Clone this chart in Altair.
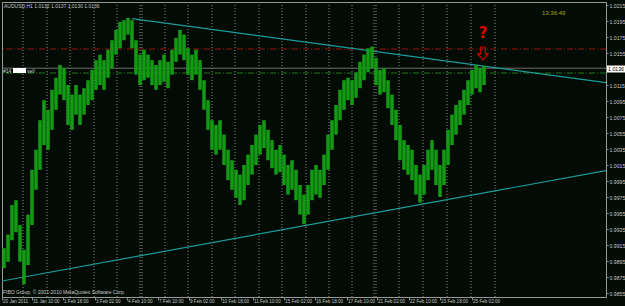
import altair as alt
import pandas as pd

# ---------------- data ----------------
bars = list(range(121))
high = [0.9911, 0.9928, 0.9965, 0.9971, 0.9940, 0.9909, 0.9953, 1.0009, 1.0034, 1.0071,
        1.0096, 1.0084, 1.0109, 1.0124, 1.0140, 1.0136, 1.0115, 1.0103, 1.0115, 1.0103,
        1.0111, 1.0121, 1.0134, 1.0146, 1.0153, 1.0146, 1.0159, 1.0171, 1.0184, 1.0194,
        1.0196, 1.0199, 1.0196, 1.0171, 1.0153, 1.0159, 1.0153, 1.0146, 1.0140, 1.0146,
        1.0153, 1.0144, 1.0159, 1.0174, 1.0184, 1.0178, 1.0161, 1.0153, 1.0159, 1.0146,
        1.0121, 1.0096, 1.0071, 1.0065, 1.0071, 1.0053, 1.0034, 1.0021, 1.0009, 1.0003,
        1.0015, 1.0028, 1.0040, 1.0053, 1.0065, 1.0071, 1.0059, 1.0046, 1.0034, 1.0040,
        1.0028, 1.0015, 1.0021, 1.0009, 0.9990, 0.9978, 0.9990, 1.0009, 1.0015, 1.0009,
        1.0028, 1.0053, 1.0071, 1.0090, 1.0109, 1.0121, 1.0124, 1.0121, 1.0131, 1.0144,
        1.0153, 1.0161, 1.0163, 1.0149, 1.0134, 1.0136, 1.0121, 1.0103, 1.0084, 1.0065,
        1.0046, 1.0040, 1.0034, 1.0015, 1.0003, 1.0015, 1.0034, 1.0046, 1.0034, 1.0015,
        1.0034, 1.0059, 1.0078, 1.0090, 1.0096, 1.0109, 1.0121, 1.0134, 1.0140, 1.0136,
        1.0139]
low = [0.9886, 0.9894, 0.9921, 0.9931, 0.9894, 0.9866, 0.9890, 0.9940, 0.9984, 1.0009,
       1.0040, 1.0034, 1.0059, 1.0084, 1.0103, 1.0096, 1.0065, 1.0059, 1.0078, 1.0065,
       1.0078, 1.0090, 1.0096, 1.0109, 1.0115, 1.0109, 1.0124, 1.0136, 1.0153, 1.0161,
       1.0171, 1.0178, 1.0161, 1.0128, 1.0115, 1.0121, 1.0124, 1.0115, 1.0109, 1.0115,
       1.0119, 1.0111, 1.0128, 1.0144, 1.0153, 1.0146, 1.0128, 1.0121, 1.0128, 1.0109,
       1.0084, 1.0059, 1.0034, 1.0028, 1.0034, 1.0015, 0.9996, 0.9984, 0.9974, 0.9965,
       0.9971, 0.9990, 1.0003, 1.0015, 1.0028, 1.0036, 1.0021, 1.0011, 1.0003, 1.0006,
       0.9990, 0.9978, 0.9984, 0.9971, 0.9953, 0.9941, 0.9953, 0.9971, 0.9978, 0.9974,
       0.9990, 1.0009, 1.0034, 1.0053, 1.0071, 1.0084, 1.0096, 1.0090, 1.0099, 1.0111,
       1.0121, 1.0131, 1.0136, 1.0115, 1.0103, 1.0106, 1.0086, 1.0065, 1.0046, 1.0021,
       1.0009, 1.0003, 0.9996, 0.9978, 0.9968, 0.9978, 0.9996, 1.0009, 0.9990, 0.9975,
       0.9990, 1.0015, 1.0040, 1.0053, 1.0065, 1.0078, 1.0090, 1.0103, 1.0111, 1.0106,
       1.0115]

separators = [4.75, 10.75, 16.5, 22.5, 28.25, 34, 34.5, 40.25, 46, 52, 57.75, 63.75,
              69.5, 75.5, 81.25, 87, 92.5, 93, 98.75, 104.75, 110.75, 116.75, 122.75]
time_label_pos = [-0.5, 7, 14.75, 22.75, 30.75, 38.5, 46.25, 54.25, 62.25, 70,
                  77.75, 85.75, 93.25, 101.25, 109, 117]
time_labels = ["20 Jan 2011", "31 Jan 10:00", "1 Feb 18:00", "3 Feb 02:00", "4 Feb 10:00",
               "7 Feb 10:00", "9 Feb 02:00", "10 Feb 18:00", "11 Feb 10:00", "15 Feb 02:00",
               "16 Feb 18:00", "17 Feb 10:00", "21 Feb 02:00", "22 Feb 10:00",
               "23 Feb 18:00", "25 Feb 02:00"]
price_ticks = [1.0215, 1.0195, 1.0175, 1.0155, 1.0115, 1.0095, 1.0075, 1.0055, 1.0035,
               1.0015, 0.9995, 0.9975, 0.9955, 0.9935, 0.9915, 0.9895, 0.9875, 0.9855]
bid_price = 1.0136
sell_open = 1.0130
stop_level = 1.0160
upper_trend_x = [32, 150.5]
upper_trend_p = [1.0198, 1.0118]
lower_trend_x = [-0.5, 150.5]
lower_trend_p = [0.9870, 1.0008]
header_text = "AUDUSD,H1  1.0132  1.0137  1.0130  1.0136"
clock_text = "13:36:49"
copyright_text = "FIBO Group, © 2001-2010 MetaQuotes Software Corp."
order_label = ["#14", "sell"]

# ---------------- chart ----------------
FONT = "Liberation Sans"
GRAY = "#c8c8c8"
xs = alt.Scale(domain=[-0.5, 150.5], nice=False, zero=False)
ys = alt.Scale(domain=[0.985, 1.021875], nice=False, zero=False)

x_axis = alt.Axis(values=time_label_pos, labels=False, tickSize=3,
                  tickColor="#8a8a8a", domain=False, grid=False, title=None)
y_axis = alt.Axis(orient="right", values=price_ticks, format=".4f",
                  labelFontSize=5.2, labelFont=FONT, labelColor=GRAY,
                  tickColor="#8a8a8a", tickSize=2, labelPadding=1,
                  domain=False, grid=False, title=None, labelOverlap=False,
                  labelFlush=False, labelBaseline="middle")

df_bars = pd.DataFrame({"bar": bars, "high": high, "low": low})
df_sep = pd.DataFrame({"pos": separators})
df_tl = pd.DataFrame({"pos": time_label_pos, "label": time_labels})
df_trend = pd.DataFrame({
    "x": upper_trend_x + lower_trend_x,
    "p": upper_trend_p + lower_trend_p,
    "line": ["upper", "upper", "lower", "lower"],
})

sep = alt.Chart(df_sep).mark_rule(color="#8a8a8a", strokeDash=[1, 2], strokeWidth=1).encode(
    x=alt.X("pos:Q", scale=xs, axis=x_axis))

def hline(price, color, dash=None, width=1):
    kw = dict(color=color, strokeWidth=width)
    if dash:
        kw["strokeDash"] = dash
    return alt.Chart(pd.DataFrame({"p": [price]})).mark_rule(**kw).encode(
        y=alt.Y("p:Q", scale=ys, axis=y_axis))

stop_rule = hline(stop_level, "#a01010", [6, 2, 1, 2])
bid_rule = hline(bid_price, "#6e6e6e")
sell_rule = hline(sell_open, "#1d7a1d", [6, 2, 1, 2])

price_bars = alt.Chart(df_bars).mark_rule(color="#139c13", strokeWidth=3.5).encode(
    x=alt.X("bar:Q", scale=xs, axis=x_axis),
    y=alt.Y("low:Q", scale=ys, axis=y_axis),
    y2="high:Q",
)

trend = alt.Chart(df_trend).mark_line(color="#1c9c9c", strokeWidth=1.2, clip=True).encode(
    x=alt.X("x:Q", scale=xs, axis=x_axis),
    y=alt.Y("p:Q", scale=ys, axis=y_axis),
    detail="line:N",
)

time_text = alt.Chart(df_tl).mark_text(align="left", baseline="middle", fontSize=4.6,
                                        font=FONT, color=GRAY, dx=1).encode(
    x=alt.X("pos:Q", scale=xs, axis=x_axis),
    y=alt.value(300),
    text="label:N",
)

def label(txt, x, y, size=5.0, color=GRAY, align="left", weight="normal", font=FONT):
    return alt.Chart(pd.DataFrame({"t": [txt]})).mark_text(
        align=align, baseline="middle", fontSize=size, color=color,
        fontWeight=weight, font=font).encode(
        x=alt.value(x), y=alt.value(y), text="t:N")

header = label(header_text, 2, 3.5)
clock = label(clock_text, 540, 11, size=6, color="#a8a81a")
qmark = label("?", 481, 30.5, size=15, color="#e00000", align="center", weight="bold",
              font="DejaVu Sans")
copyright_ = label(copyright_text, 1, 290, size=5)

arrow = alt.Chart(pd.DataFrame({"t": [1]})).mark_point(
    shape="M -0.35 -1 L 0.35 -1 L 0.35 0.05 L 0.8 0.05 L 0 1 L -0.8 0.05 L -0.35 0.05 Z",
    size=170, filled=False, stroke="#e00000", strokeWidth=1.1, opacity=1).encode(
    x=alt.value(481), y=alt.value(51.5))

order_box = alt.Chart(pd.DataFrame({"t": [1]})).mark_rect(color="#ffffff").encode(
    x=alt.value(11), x2=alt.value(24), y=alt.value(66), y2=alt.value(71))
order_t1 = label(order_label[0], 1, 68.5)
order_t2 = label(order_label[1], 25, 68.5)

bid_box = alt.Chart(pd.DataFrame({"t": [1]})).mark_rect(color="#ffffff").encode(
    x=alt.value(605), x2=alt.value(623), y=alt.value(63.5), y2=alt.value(70.5))
bid_text = label(f"{bid_price:.4f}", 614, 67.2, size=5.2, color="#000000", align="center")

chart = alt.layer(
    sep, stop_rule, bid_rule, sell_rule, trend, price_bars, time_text,
    header, clock, qmark, arrow, copyright_, order_box, order_t1, order_t2,
    bid_box, bid_text,
).properties(
    width=604, height=295,
    autosize=alt.AutoSizeParams(type="none"),
    padding={"left": 2, "top": 2, "right": 19, "bottom": 9},
    background="#020b04",
).configure_view(stroke="#9a9a9a", strokeWidth=1)

chart.save("out.html", embed_options={"renderer": "svg", "actions": False})
